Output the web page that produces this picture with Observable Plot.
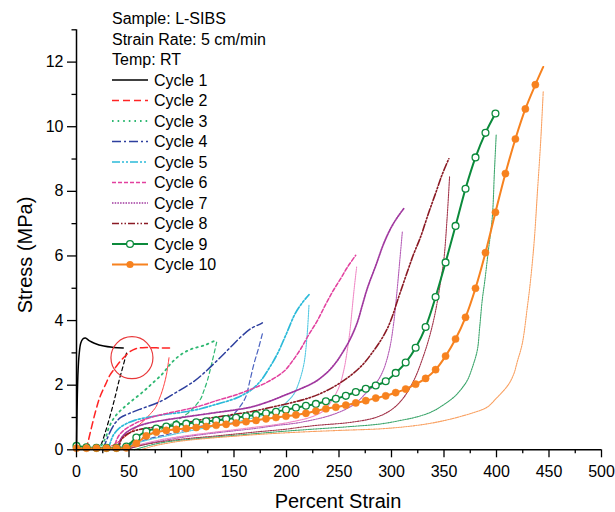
<!DOCTYPE html>
<html><head><meta charset="utf-8">
<script src="https://cdn.jsdelivr.net/npm/d3@7"></script>
<script src="https://cdn.jsdelivr.net/npm/@observablehq/plot@0.6"></script>
<style>body{margin:0;background:#fff}#chart{width:615px;height:512px}</style>
</head><body><div id="chart"></div>
<script>
// ---------- data ----------
const headerLines = ["Sample: L-SIBS", "Strain Rate: 5 cm/min", "Temp: RT"];
const cycleNames = ["Cycle 1","Cycle 2","Cycle 3","Cycle 4","Cycle 5","Cycle 6","Cycle 7","Cycle 8","Cycle 9","Cycle 10"];
const xTicks = [0,50,100,150,200,250,300,350,400,450,500];
const xMinorTicks = [25,75,125,175,225,275,325,375,425,475];
const yTicks = [0,2,4,6,8,10,12];
const yMinorTicks = [1,3,5,7,9,11,13];
const xTitle = "Percent Strain";
const yTitle = "Stress (MPa)";

// [percent strain, stress MPa]
const c1Load = [[0,0],[0.3,0.8],[0.8,1.7],[1.5,2.45],[2.5,2.95],[4,3.3],[6,3.43],[8.5,3.46],[12,3.38],[17,3.3],[26,3.21],[35,3.17],[44.5,3.15]];
const c1Unload = [[47.6,2.99],[44,2.55],[40.6,2.15],[36.5,1.6],[32.6,1.12],[27,0.5],[23,0.13],[20,0]];
const c2Load = [[8.9,0],[11,0.25],[13.6,0.6],[18.4,1.22],[22.5,1.65],[27.9,2.04],[32,2.32],[37.4,2.56],[42,2.75],[46.9,2.92],[51,3.04],[56.4,3.13],[63,3.16],[72.3,3.16],[80,3.15],[89.8,3.15]];
const c2Unload = [[88.1,2.85],[85.5,2.3],[81.8,1.84],[78.5,1.55],[75.5,1.32],[70,1.1],[64.4,0.91],[57,0.7],[50,0.5],[42,0.3],[35,0.15],[25,0]];
const c3Load = [[20,0],[24,0.15],[27.9,0.39],[31,0.7],[35,0.95],[39,1.12],[43.8,1.27],[52,1.5],[62.8,1.78],[72,2.05],[81.8,2.35],[88,2.6],[94.5,2.82],[102,3.0],[110.4,3.13],[121.4,3.23],[132.6,3.39]];
const c3Unload = [[133.5,3.33],[129,2.7],[124.7,2.15],[121,1.8],[118.3,1.58],[112,1.32],[105.6,1.12],[95,0.9],[85,0.7],[72,0.5],[60,0.33],[48,0.18],[38,0.06],[30,0]];
const c4Load = [[25,0],[28,0.25],[32.7,0.6],[37.4,0.85],[42.2,1.0],[50,1.12],[60,1.25],[80.2,1.5],[95,1.78],[111.9,2.12],[121.5,2.38],[134.2,2.77],[145,3.12],[156.4,3.49],[166,3.75],[175.4,3.9],[177,3.93]];
const c4Unload = [[177,3.59],[173,3.1],[169,2.66],[165,2.12],[161.1,1.63],[156,1.35],[150,1.12],[140,0.95],[128,0.82],[110,0.66],[90,0.5],[70,0.35],[55,0.2],[43,0.07],[35,0]];
const c5Load = [[30,0],[32,0.2],[35,0.45],[40,0.65],[47,0.8],[56,0.92],[70.7,1.02],[85,1.1],[100,1.16],[118.3,1.27],[130,1.38],[140,1.47],[152,1.6],[165.9,1.84],[175,2.12],[183,2.5],[191.3,2.97],[200,3.6],[208,4.2],[215,4.55],[221.4,4.8]];
const c5Unload = [[221.4,4.47],[219.5,3.5],[216.6,2.66],[212,2.1],[207.1,1.73],[201,1.5],[194.5,1.32],[182,1.12],[170,1.0],[150,0.85],[130,0.72],[110,0.6],[90,0.46],[70,0.32],[55,0.18],[45,0.06],[38,0]];
const c6Load = [[35,0],[37,0.2],[40,0.42],[45,0.6],[52,0.75],[60,0.88],[70.7,1.0],[85,1.12],[100,1.22],[118,1.36],[134.2,1.53],[150,1.68],[165.9,1.87],[182,2.1],[197.6,2.43],[205,2.72],[213.5,3.12],[221,3.55],[229.4,4.0],[237.3,4.5],[244,4.9],[251.6,5.3],[258,5.65],[265.9,6.02]];
const c6Unload = [[266.8,5.66],[264.5,5.0],[262.7,4.42],[260.5,3.7],[257.9,3.08],[254.5,2.45],[250,1.94],[243,1.52],[235.7,1.22],[225,1.03],[210,0.9],[190,0.78],[170,0.7],[140,0.58],[110,0.46],[85,0.34],[65,0.2],[50,0.07],[42,0]];
const c7Load = [[38,0],[40,0.18],[43,0.38],[48,0.55],[55,0.68],[65,0.8],[80,0.9],[100,1.0],[130,1.14],[150,1.23],[165.9,1.32],[182,1.48],[197.6,1.68],[213.5,1.89],[227,2.1],[238.9,2.4],[247,2.7],[254.7,3.08],[261,3.45],[267.5,3.95],[272,4.45],[277,5.0],[285,5.7],[292.8,6.4],[300,6.9],[307,7.26],[311.8,7.47]];
const c7Unload = [[310.3,6.74],[308,5.9],[305.5,5.0],[302,3.9],[298,3.1],[292,2.45],[285,2.05],[277,1.8],[265,1.42],[245,1.1],[213.5,0.85],[190,0.75],[170,0.66],[140,0.55],[110,0.43],[85,0.3],[65,0.17],[52,0.06],[45,0]];
const c8Load = [[40,0],[41,0.15],[43,0.33],[48,0.48],[56.4,0.6],[70,0.68],[94.5,0.77],[123,0.96],[145,1.07],[165.9,1.18],[190,1.35],[213.5,1.53],[229.4,1.7],[245,1.95],[261.1,2.3],[273,2.65],[283.3,3.08],[290,3.4],[296,3.75],[301,4.15],[305.5,4.6],[315,5.5],[321,6.05],[327.7,6.59],[335,7.3],[341.9,7.93],[348,8.5],[354.6,9.01]];
const c8Unload = [[355.3,8.45],[353,7.2],[349.9,5.9],[346.7,5.2],[342,4.3],[337,3.6],[330.9,2.95],[321.3,2.15],[310,1.55],[299,1.22],[285,1.0],[261.1,0.85],[230,0.76],[213.5,0.7],[200,0.64],[170,0.55],[140,0.45],[110,0.36],[85,0.27],[68,0.18],[55,0.08],[48,0]];
const c9Load = [[0,0.12],[9.5,0.08],[19,0.06],[28.5,0.06],[38,0.06],[47.5,0.1],[57,0.38],[66.5,0.57],[76,0.66],[85.5,0.72],[95,0.77],[104.5,0.81],[114,0.85],[123.5,0.88],[133,0.91],[142.5,0.95],[152,0.99],[161.5,1.04],[171,1.08],[180.5,1.13],[190,1.18],[199.5,1.24],[209,1.3],[218.5,1.36],[228,1.42],[237.5,1.5],[247,1.58],[256.5,1.67],[266,1.79],[275.5,1.89],[285,1.99],[294.5,2.12],[304,2.38],[313.5,2.7],[323,3.16],[332.5,3.8],[342,4.73],[351.5,5.8],[361,6.93],[370.5,8.08],[380,9.05],[389.5,9.81],[399,10.41]];
const c9Unload = [[399.7,9.74],[398,8.6],[396,7.2],[392,6.1],[388.9,5.24],[386.4,4.63],[384,3.8],[381.7,3.08],[377,2.55],[372.2,2.15],[366,1.86],[359.4,1.63],[349,1.38],[337.2,1.16],[322,1.0],[308.7,0.91],[289.6,0.8],[261.1,0.72],[230,0.65],[200,0.58],[170,0.5],[140,0.42],[110,0.33],[85,0.24],[70,0.14],[60,0.05],[55,0]];
const c10Load = [[0,0.05],[9.5,0.05],[19,0.05],[28.5,0.05],[38,0.05],[47.5,0.06],[57,0.2],[66.5,0.43],[76,0.55],[85.5,0.6],[95,0.63],[104.5,0.66],[114,0.69],[123.5,0.72],[133,0.76],[142.5,0.79],[152,0.83],[161.5,0.87],[171,0.91],[180.5,0.96],[190,1.0],[199.5,1.04],[209,1.08],[218.5,1.13],[228,1.2],[237.5,1.27],[247,1.32],[256.5,1.38],[266,1.45],[275.5,1.52],[285,1.6],[294.5,1.67],[304,1.77],[313.5,1.88],[323,2.03],[332.5,2.21],[342,2.48],[351.5,2.9],[361,3.43],[370.5,4.1],[380,5.0],[389.5,6.1],[399,7.35],[408.5,8.55],[418,9.62],[427.5,10.55],[437,11.3]];
const c10LoadEnd = [[444.5,11.85]];
const c10Unload = [[444.5,11.08],[442,9.5],[439,8.0],[436,6.5],[432.4,5.24],[429.3,4.4],[424.5,3.28],[420,2.75],[416.5,2.35],[412,2.05],[407,1.84],[400,1.6],[391.2,1.32],[380,1.17],[368.9,1.06],[355,0.94],[337.2,0.82],[315,0.72],[289.6,0.65],[250,0.6],[213.5,0.55],[180,0.49],[150,0.42],[120,0.34],[95,0.25],[75,0.13],[65,0.04],[60,0]];
const highlightCircle = [[52.8, 2.85]];

// ---------- styles ----------
const loadStyle = [
  {color:"#000000", w:1.5, dash:null},
  {color:"#ff2424", w:1.5, dash:"7,4"},
  {color:"#2fb872", w:1.8, dash:"1.6,4"},
  {color:"#2d3f9e", w:1.5, dash:"9,3,2,3"},
  {color:"#2bbad9", w:1.7, dash:"8,2,2,2,2,2"},
  {color:"#e2409e", w:1.5, dash:"4,2"},
  {color:"#a0389f", w:1.7, dash:"1.5,1.2"},
  {color:"#8a1a24", w:1.6, dash:"7,2,1.5,2,1.5,2"},
  {color:"#0b8a3b", w:2, dash:null},
  {color:"#f7821f", w:2, dash:null}
];
const unloadStyle = [
  {color:"#000000", w:1.2, dash:"4,3"},
  {color:"#ff3a3a", w:1, dash:"2,0.8"},
  {color:"#2fb872", w:1.2, dash:"4,3"},
  {color:"#4a62c0", w:1.2, dash:"5,3"},
  {color:"#52c8e2", w:1.1, dash:"1.5,1"},
  {color:"#f08ac6", w:1.1, dash:"1.5,0.8"},
  {color:"#b45cb6", w:1.1, dash:"1.5,1"},
  {color:"#a2344a", w:1.1, dash:"1.5,1"},
  {color:"#3da66c", w:1.1, dash:"1.5,1"},
  {color:"#f9a060", w:1.1, dash:"1.5,1"}
];

const loads = [c1Load,c2Load,c3Load,c4Load,c5Load,c6Load,c7Load,c8Load,c9Load,c10Load.concat(c10LoadEnd)];
const unloads = [c1Unload,c2Unload,c3Unload,c4Unload,c5Unload,c6Unload,c7Unload,c8Unload,c9Unload,c10Unload];

const X = d => d[0], Y = d => d[1];
const marks = [];
for (let i = 0; i < 10; i++) {
  const u = unloadStyle[i], l = loadStyle[i];
  marks.push(Plot.line(unloads[i], {x:X, y:Y, stroke:u.color, strokeWidth:u.w, strokeDasharray:u.dash, curve:"catmull-rom"}));
  marks.push(Plot.line(loads[i], {x:X, y:Y, stroke:l.color, strokeWidth:l.w, strokeDasharray:l.dash, curve:"catmull-rom"}));
}
marks.push(Plot.dot(c9Load, {x:X, y:Y, r:3.4, fill:"white", stroke:loadStyle[8].color, strokeWidth:1.3}));
marks.push(Plot.dot(c10Load, {x:X, y:Y, r:3.6, fill:loadStyle[9].color, stroke:loadStyle[9].color, strokeWidth:0.5}));
marks.push(Plot.dot(highlightCircle, {x:X, y:Y, r:21, fill:"none", stroke:"#e8383a", strokeWidth:1.2}));

const font = "'Liberation Sans', Arial, sans-serif";
const chart = Plot.plot({
  width: 615, height: 512,
  marginLeft: 76, marginRight: 14, marginTop: 29.3, marginBottom: 62.7,
  x: {domain:[0,500]},
  y: {domain:[0,13]},
  style: {fontFamily: font, fontSize:"16px", background:"white", color:"black", overflow:"visible"},
  marks: [
    ...marks,
    Plot.axisX({ticks: xTicks, tickSize: 8, tickPadding: 8, fontSize: 16, label: null, strokeWidth: 1.3}),
    Plot.axisX({ticks: xMinorTicks, tickSize: 4, tickFormat: () => "", label: null, strokeWidth: 1.3}),
    Plot.axisY({ticks: yTicks, tickSize: 9, tickPadding: 4, fontSize: 16, label: null, strokeWidth: 1.3}),
    Plot.axisY({ticks: yMinorTicks, tickSize: 4.5, tickFormat: () => "", label: null, strokeWidth: 1.3}),
    Plot.ruleX([0], {stroke:"black", strokeWidth:1.5}),
    Plot.ruleY([0], {stroke:"black", strokeWidth:1.5})
  ]
});
document.getElementById("chart").appendChild(chart);

// ---------- titles and legend ----------
const svg = d3.select(chart);
svg.append("text").attr("x", 338).attr("y", 508).attr("text-anchor","middle")
  .style("font-family", font).style("font-size","20px").attr("fill","black").text(xTitle);
svg.append("text").attr("transform","translate(32,255) rotate(-90)").attr("text-anchor","middle")
  .style("font-family", font).style("font-size","20px").attr("fill","black").text(yTitle);

const leg = svg.append("g").style("font-family", font).style("font-size","16px").attr("text-anchor","start");
const base0 = 24.2, step = 20.5;
headerLines.forEach((t,k) => {
  leg.append("text").attr("x",112).attr("y",base0 + step*k).attr("text-anchor","start").attr("fill","black").text(t);
});
cycleNames.forEach((t,i) => {
  const by = base0 + step*(i+3);
  const ly = by - 5.7;
  const s = loadStyle[i];
  leg.append("line").attr("x1",112).attr("x2",148).attr("y1",ly).attr("y2",ly)
    .attr("stroke",s.color).attr("stroke-width",s.w).attr("stroke-dasharray",s.dash);
  if (i === 8) leg.append("circle").attr("cx",130).attr("cy",ly).attr("r",3.4).attr("fill","white").attr("stroke",s.color).attr("stroke-width",1.3);
  if (i === 9) leg.append("circle").attr("cx",130).attr("cy",ly).attr("r",3.6).attr("fill",s.color);
  leg.append("text").attr("x",154).attr("y",by).attr("text-anchor","start").attr("fill","black").text(t);
});
</script>
</body></html>
